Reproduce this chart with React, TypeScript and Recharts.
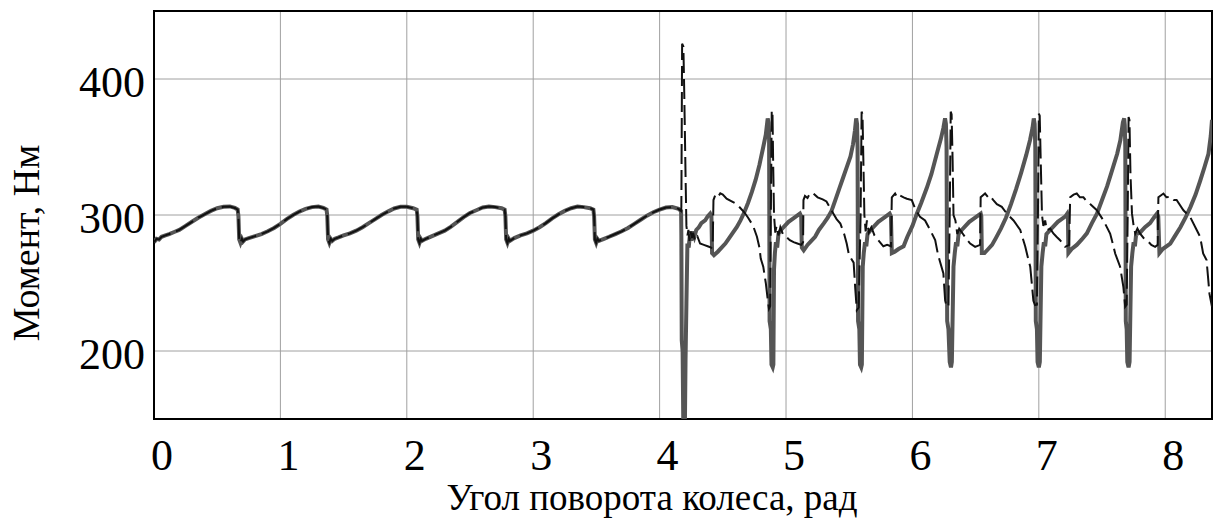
import React from 'react';
import { LineChart, Line, XAxis, YAxis, CartesianGrid, ReferenceArea } from 'recharts';

const xTicks = [0, 1, 2, 3, 4, 5, 6, 7, 8];
const yTicks = [200, 300, 400];
const xDomain: [number, number] = [0, 8.37];
const yDomain: [number, number] = [150, 450];
const xTitle = 'Угол поворота колеса, рад';
const yTitle = 'Момент, Нм';

// common part of both curves (0 .. 4.17 rad)
const rampPhase: [number, number][] = [
  [0, 280], [0.02, 282.5], [0.04, 282], [0.06, 284], [0.09, 285], [0.12, 286], [0.16, 287.5], [0.2, 289],
  [0.25, 292], [0.3, 295], [0.35, 298], [0.4, 300.5], [0.45, 303], [0.5, 305], [0.55, 306], [0.6, 306.3],
  [0.64, 305.2], [0.662, 304], [0.668, 299], [0.674, 282], [0.684, 279.5], [0.695, 282.5], [0.705, 280.5],
  [0.72, 282], [0.75, 283], [0.8, 284.5], [0.85, 286], [0.9, 288], [0.95, 290.5], [1.0, 293.5], [1.05, 297],
  [1.1, 300], [1.15, 302.5], [1.2, 304.5], [1.25, 305.8], [1.3, 306.2], [1.34, 305.2], [1.365, 304],
  [1.371, 299], [1.377, 282], [1.387, 279.5], [1.398, 282.5], [1.41, 281], [1.43, 282.5], [1.46, 283.5],
  [1.5, 285], [1.55, 286.5], [1.6, 288.5], [1.65, 291], [1.7, 294], [1.75, 297], [1.8, 300], [1.85, 302.5],
  [1.9, 304.8], [1.95, 306], [2.0, 306], [2.05, 305], [2.078, 304], [2.084, 299], [2.09, 282], [2.1, 279.5],
  [2.11, 282.5], [2.12, 281], [2.15, 282.5], [2.2, 284.5], [2.25, 286.5], [2.3, 288.5], [2.35, 291.5],
  [2.4, 295], [2.45, 298.5], [2.5, 301.5], [2.55, 303.5], [2.6, 305.5], [2.65, 306.2], [2.7, 305.8],
  [2.75, 305], [2.774, 304], [2.78, 299], [2.786, 282], [2.796, 279.5], [2.806, 282.5], [2.815, 281],
  [2.85, 283], [2.9, 285], [2.95, 286.5], [3.0, 288.5], [3.05, 291], [3.1, 294], [3.15, 297.5], [3.2, 300.5],
  [3.25, 303], [3.3, 305], [3.35, 306.2], [3.4, 305.8], [3.45, 305], [3.476, 304], [3.482, 299], [3.488, 282],
  [3.498, 279.5], [3.508, 282.5], [3.52, 281], [3.56, 282.5], [3.6, 284], [3.65, 286], [3.7, 288],
  [3.75, 290.5], [3.8, 293.5], [3.85, 296.5], [3.9, 299.5], [3.95, 302], [4.0, 304], [4.05, 305.5],
  [4.1, 305.8], [4.15, 304.5], [4.17, 303],
];

// thick grey curve after 4.17 rad
const solidPhase: [number, number][] = [
  [4.172, 285], [4.175, 208], [4.182, 200], [4.187, 150], [4.195, 140], [4.2, 145], [4.205, 193], [4.212, 235],
  [4.22, 279], [4.23, 276], [4.24, 286], [4.25, 281], [4.26, 288], [4.275, 284], [4.29, 289], [4.31, 291],
  [4.33, 294], [4.36, 296], [4.38, 299], [4.4, 301], [4.41, 299], [4.415, 272], [4.43, 270.5], [4.46, 273],
  [4.49, 276], [4.52, 279], [4.55, 283], [4.58, 287], [4.61, 291], [4.64, 296], [4.67, 302], [4.7, 309],
  [4.73, 317], [4.76, 326], [4.79, 337], [4.82, 350], [4.84, 359], [4.855, 371], [4.862, 368], [4.866, 360],
  [4.87, 222], [4.88, 216], [4.885, 190], [4.895, 188], [4.9, 190], [4.905, 260], [4.912, 272], [4.92, 280],
  [4.93, 276], [4.94, 286], [4.96, 289], [4.99, 292], [5.02, 295], [5.05, 297], [5.08, 299], [5.11, 301],
  [5.12, 299], [5.125, 276], [5.14, 274], [5.17, 278], [5.2, 281], [5.23, 284], [5.26, 289], [5.3, 294],
  [5.33, 298], [5.36, 303], [5.39, 311], [5.42, 319], [5.45, 327], [5.48, 335], [5.51, 343], [5.53, 352],
  [5.545, 362], [5.555, 371], [5.562, 367], [5.566, 350], [5.57, 222], [5.58, 216], [5.585, 190], [5.595, 188],
  [5.6, 190], [5.607, 262], [5.615, 272], [5.625, 280], [5.635, 277], [5.645, 286], [5.67, 289], [5.7, 292],
  [5.73, 295], [5.76, 297], [5.79, 299], [5.82, 301], [5.83, 299], [5.837, 272], [5.86, 273], [5.89, 275],
  [5.93, 277], [5.96, 284], [6.0, 292], [6.035, 301], [6.07, 309], [6.114, 320], [6.15, 330], [6.193, 345],
  [6.225, 356], [6.245, 364], [6.258, 371], [6.265, 367], [6.27, 350], [6.275, 222], [6.285, 216], [6.295, 192],
  [6.305, 188], [6.312, 192], [6.325, 262], [6.335, 272], [6.345, 280], [6.355, 277], [6.365, 286], [6.39, 289],
  [6.42, 292], [6.45, 295], [6.48, 297], [6.51, 299], [6.54, 301], [6.545, 299], [6.549, 272], [6.57, 272],
  [6.6, 275], [6.63, 278], [6.66, 283], [6.7, 290], [6.74, 298], [6.78, 308], [6.82, 319], [6.86, 331],
  [6.9, 344], [6.93, 355], [6.95, 364], [6.96, 371], [6.967, 367], [6.972, 350], [6.976, 222], [6.985, 216],
  [6.99, 192], [7.0, 188], [7.008, 192], [7.02, 262], [7.03, 272], [7.04, 280], [7.05, 277], [7.06, 286],
  [7.09, 289], [7.12, 292], [7.15, 295], [7.18, 297], [7.21, 299], [7.225, 301], [7.23, 299], [7.234, 272],
  [7.26, 275], [7.3, 278], [7.34, 282], [7.38, 286.5], [7.42, 294], [7.46, 301], [7.5, 311], [7.54, 321],
  [7.58, 333], [7.62, 345], [7.645, 355], [7.665, 368], [7.675, 371], [7.68, 366], [7.684, 350], [7.688, 222],
  [7.695, 216], [7.7, 192], [7.71, 188], [7.718, 192], [7.73, 262], [7.74, 272], [7.75, 280], [7.76, 277],
  [7.77, 286], [7.8, 287], [7.84, 291], [7.88, 294], [7.91, 298], [7.935, 301], [7.945, 299], [7.954, 272],
  [7.98, 275], [8.04, 279], [8.08, 285], [8.12, 291], [8.16, 298], [8.2, 306], [8.24, 315], [8.276, 325],
  [8.31, 335], [8.342, 345], [8.36, 358], [8.37, 370],
];

// thin black dashed curve after 4.17 rad
const dashedPhase: [number, number][] = [
  [4.172, 306], [4.178, 426], [4.188, 424], [4.193, 400], [4.198, 372], [4.205, 330], [4.212, 292], [4.22, 285],
  [4.228, 289], [4.236, 281], [4.245, 288], [4.255, 283], [4.265, 287], [4.28, 281], [4.3, 284], [4.32, 279],
  [4.35, 278], [4.38, 277], [4.41, 276], [4.42, 278], [4.426, 311], [4.44, 314.5], [4.46, 313], [4.48, 316],
  [4.5, 315], [4.53, 312], [4.57, 310], [4.61, 308], [4.64, 305], [4.67, 302], [4.7, 298], [4.74, 292],
  [4.77, 284], [4.79, 276], [4.8, 268], [4.82, 262], [4.84, 250], [4.855, 238], [4.865, 231], [4.875, 233],
  [4.88, 300], [4.887, 377], [4.893, 375], [4.898, 340], [4.905, 300], [4.915, 287], [4.925, 292], [4.94, 285],
  [4.955, 291], [4.975, 286], [5.0, 284], [5.03, 281.5], [5.06, 280], [5.09, 279], [5.12, 278], [5.135, 280],
  [5.138, 311], [5.15, 314], [5.17, 312.5], [5.19, 316], [5.217, 315.8], [5.25, 313], [5.29, 311.5], [5.32, 310],
  [5.35, 305], [5.375, 301], [5.4, 297], [5.43, 293.7], [5.46, 286], [5.48, 279], [5.495, 272], [5.515, 268],
  [5.535, 265], [5.547, 247], [5.56, 230], [5.575, 232], [5.59, 300], [5.598, 376], [5.605, 374], [5.612, 340],
  [5.62, 300], [5.63, 288], [5.64, 296], [5.655, 287], [5.675, 291], [5.7, 285], [5.73, 281.5], [5.77, 277],
  [5.8, 278], [5.83, 277], [5.837, 313], [5.863, 315.8], [5.88, 313], [5.9, 314.5], [5.93, 313], [5.956, 312],
  [5.995, 311], [6.02, 305], [6.06, 298.6], [6.1, 296], [6.14, 289], [6.18, 281.5], [6.2, 272], [6.215, 266.8],
  [6.245, 257], [6.259, 237], [6.272, 232.5], [6.285, 233], [6.295, 300], [6.303, 376], [6.31, 374], [6.318, 340],
  [6.325, 300], [6.34, 296], [6.355, 286], [6.37, 290], [6.4, 286], [6.43, 282], [6.457, 279], [6.496, 276.6],
  [6.535, 278], [6.54, 313], [6.575, 315.8], [6.6, 313], [6.615, 314], [6.64, 311], [6.668, 308], [6.707, 306],
  [6.747, 301], [6.8, 296], [6.853, 289], [6.892, 277], [6.91, 270], [6.932, 262], [6.957, 237], [6.97, 233.7],
  [6.985, 234], [6.993, 300], [7.0, 374.5], [7.007, 373], [7.015, 340], [7.025, 300], [7.036, 292], [7.05, 296],
  [7.063, 288.8], [7.09, 290], [7.115, 286.4], [7.14, 284], [7.168, 281.5], [7.208, 276.6], [7.24, 278],
  [7.248, 313], [7.275, 315], [7.3, 315.8], [7.325, 313], [7.353, 313], [7.38, 310], [7.406, 308], [7.459, 303.5],
  [7.511, 296], [7.564, 286.4], [7.585, 279], [7.604, 271.7], [7.643, 262], [7.669, 247], [7.683, 232.5],
  [7.695, 234], [7.703, 300], [7.71, 372], [7.717, 370], [7.725, 330], [7.737, 301], [7.75, 292], [7.763, 286.4],
  [7.78, 290], [7.8, 286.4], [7.83, 283], [7.855, 281.5], [7.89, 278], [7.92, 276.6], [7.94, 278], [7.946, 313],
  [7.986, 315.8], [8.01, 313], [8.039, 313.3], [8.065, 311], [8.09, 311], [8.144, 303.5], [8.197, 298.6],
  [8.25, 288.8], [8.276, 284], [8.3, 271.7], [8.327, 266.8], [8.35, 242], [8.37, 232.5],
];

const toRows = (pts: [number, number][]) => pts.map(([x, y]) => ({ x, y }));
const solidData = toRows([...rampPhase, ...solidPhase]);
const dashedData = toRows([...rampPhase, ...dashedPhase]);

const FONT = '"Liberation Serif", "Times New Roman", serif';

const XTick = (props: any) => {
  const { x, y, payload } = props;
  return (
    <text x={x + 8} y={y} dy={49} textAnchor="middle" fontFamily={FONT} fontSize={44} fill="#000">
      {payload.value}
    </text>
  );
};

const YTick = (props: any) => {
  const { x, y, payload } = props;
  return (
    <text x={x} y={y} dy={18} textAnchor="end" fontFamily={FONT} fontSize={44} fill="#000">
      {payload.value}
    </text>
  );
};

export default function App() {
  return (
    <div style={{ position: 'absolute', left: 0, top: 0, background: '#fff' }}>
      <LineChart width={1214} height={520} margin={{ top: 11, right: 2, bottom: 0, left: 0 }}>
        <CartesianGrid stroke="#a0a0a0" strokeWidth={1} />
        <XAxis
          type="number"
          dataKey="x"
          domain={xDomain}
          ticks={xTicks}
          interval={0}
          allowDataOverflow
          height={101}
          tickLine={false}
          tickSize={0}
          axisLine={false}
          tick={<XTick />}
          label={() => (
            <text x={652} y={510} textAnchor="middle" fontFamily={FONT} fontSize={37} fill="#000">
              {xTitle}
            </text>
          )}
        />
        <YAxis
          type="number"
          domain={yDomain}
          ticks={yTicks}
          interval={0}
          allowDataOverflow
          width={154}
          tickLine={false}
          tickSize={0}
          tickMargin={9}
          axisLine={false}
          tick={<YTick />}
          label={() => (
            <text
              transform="translate(39,243) rotate(-90)"
              textAnchor="middle"
              fontFamily={FONT}
              fontSize={38}
              fill="#000"
            >
              {yTitle}
            </text>
          )}
        />
        <Line
          data={solidData}
          dataKey="y"
          type="linear"
          stroke="#555555"
          strokeWidth={4}
          dot={false}
          activeDot={false}
          isAnimationActive={false}
        />
        <Line
          data={dashedData}
          dataKey="y"
          type="linear"
          stroke="#111111"
          strokeWidth={2}
          strokeDasharray="20 6"
          dot={false}
          activeDot={false}
          isAnimationActive={false}
        />
        <ReferenceArea x1={xDomain[0]} x2={xDomain[1]} y1={yDomain[0]} y2={yDomain[1]} fill="none" stroke="#000" strokeWidth={2} />
      </LineChart>
    </div>
  );
}
